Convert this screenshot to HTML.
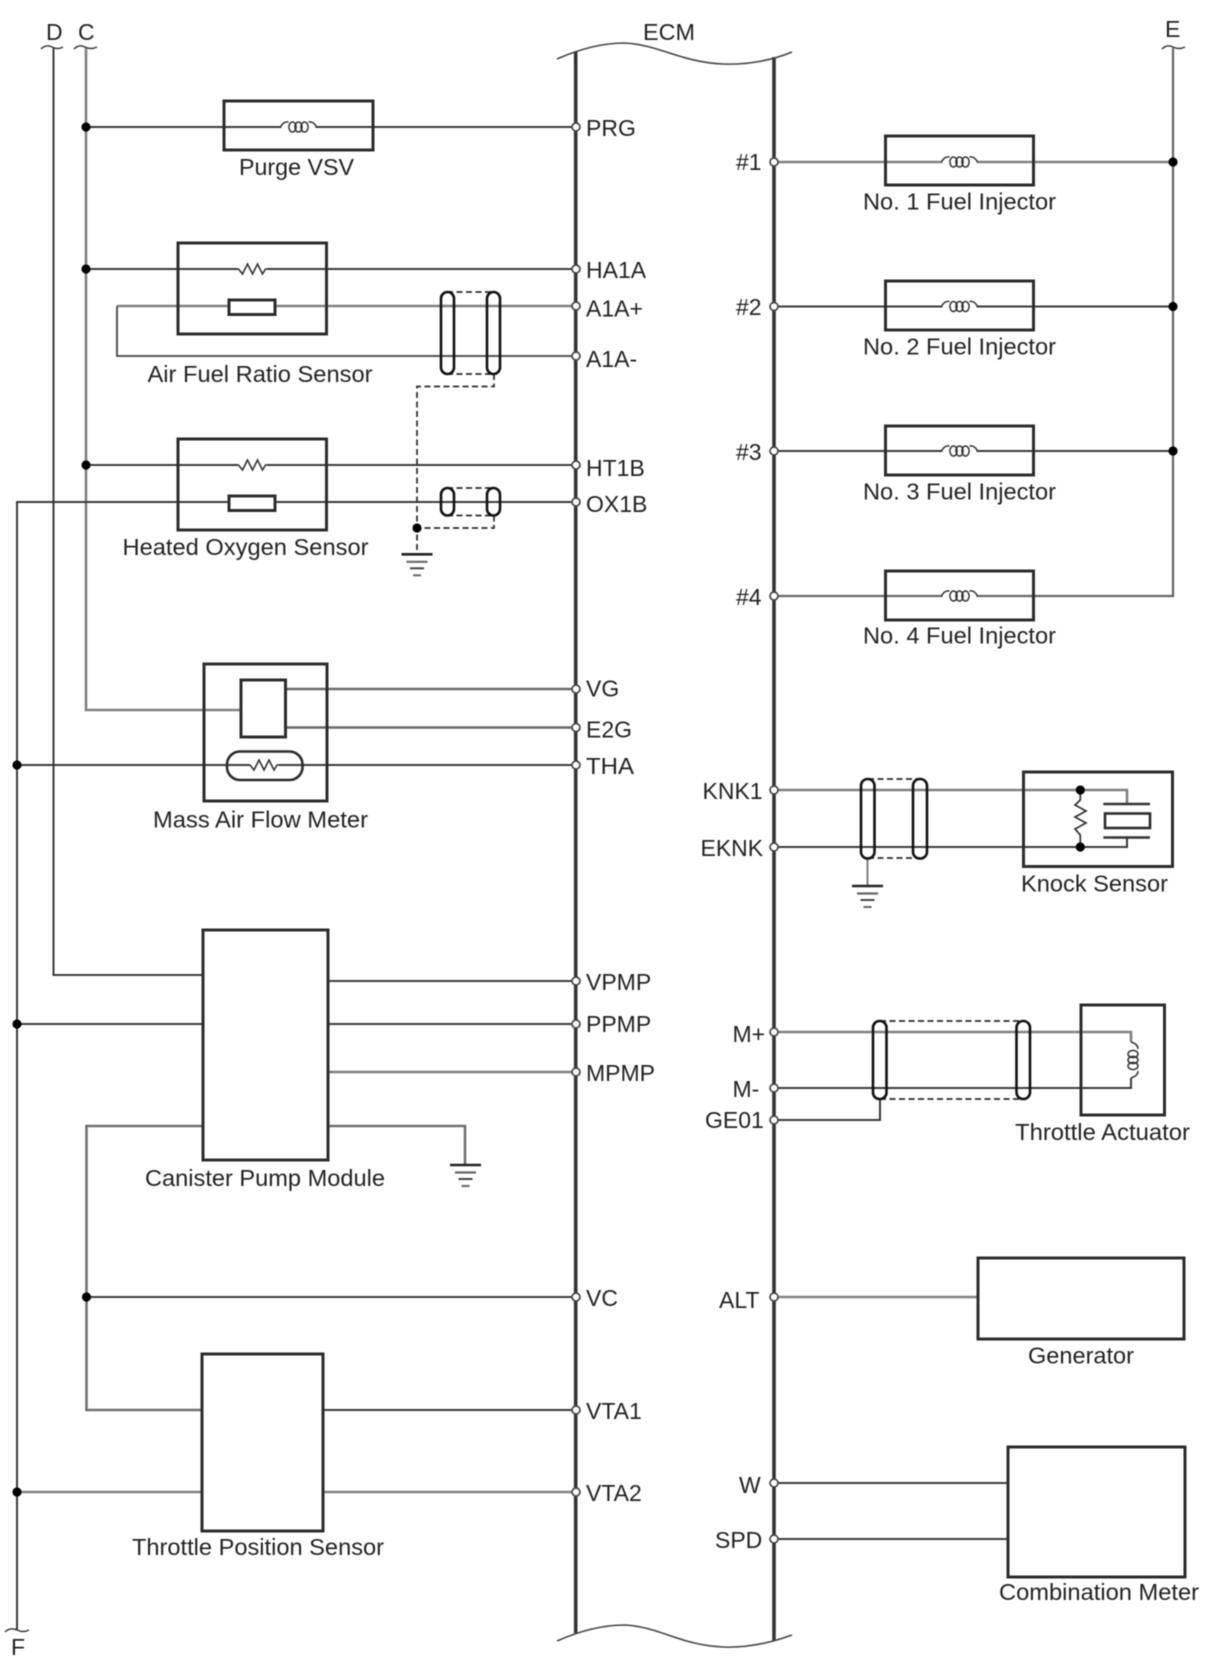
<!DOCTYPE html>
<html><head><meta charset="utf-8"><title>ECM wiring diagram</title>
<style>
html,body{margin:0;padding:0;background:#fff}
svg{display:block;filter:blur(.45px)}
text{font-family:"Liberation Sans",sans-serif;font-size:23px;fill:#222}
.w{fill:none;stroke:#3a3a3a;stroke-width:2}
.g{fill:none;stroke:#808080;stroke-width:2.6}
.b{fill:#fff;stroke:#2c2c2c;stroke-width:3}
.e{fill:none;stroke:#333;stroke-width:3.6}
.t{fill:none;stroke:#444;stroke-width:1.6}
.d{fill:none;stroke:#2a2a2a;stroke-width:1.7;stroke-dasharray:6 3.5}
.o{fill:#fff;stroke:#111;stroke-width:2.6}
.n{fill:#fff;stroke:#444;stroke-width:1.7}
.k{fill:#000}
</style></head><body>
<svg width="1210" height="1668" viewBox="0 0 1210 1668" xmlns="http://www.w3.org/2000/svg">
<defs>
<g id="coil"><rect x="-17" y="-3" width="34" height="6" fill="#fff"/><path d="M-18 0Q-15-6-10-5M10-5Q15-6 18 0" fill="none" stroke="#333" stroke-width="1.5"/><ellipse cx="-6" cy="0" rx="3.6" ry="5" fill="none" stroke="#333" stroke-width="1.5"/><ellipse cx="0" cy="0" rx="3.6" ry="5" fill="none" stroke="#333" stroke-width="1.5"/><ellipse cx="6" cy="0" rx="3.6" ry="5" fill="none" stroke="#333" stroke-width="1.5"/></g>
<g id="res"><rect x="-15" y="-3" width="30" height="6" fill="#fff"/><path d="M-17 0H-14L-10 5-5-5 0 5 5-5 10 5 13 0H17" fill="none" stroke="#333" stroke-width="1.6"/></g>
<g id="gnd"><path d="M-15.500 0H15.500" stroke="#222" stroke-width="2.6"/><path d="M-10.500 7.500H10.500" stroke="#666" stroke-width="2.2"/><path d="M-7 14H7" stroke="#444" stroke-width="2"/><path d="M-4 21H4" stroke="#666" stroke-width="2"/></g>
</defs>

<!-- ECM -->
<path class="e" d="M575.700 52V1633M774 57V1641"/>
<path class="t" d="M557 59C575 51 600 43 625 43C660 45 680 62 723 64C748 65 773 60 792 52"/>
<path class="t" d="M557 1641C575 1633 600 1625 625 1625C660 1627 680 1645 723 1647C748 1648 773 1642 792 1635"/>

<!-- Bus wires -->
<path class="w" d="M53.500 48V975H203"/>
<path class="g" d="M86 48V710H241"/>
<path class="w" d="M17 1630V502H576"/>
<path class="g" d="M1173 48V596H774" style="stroke:#666;stroke-width:2.2"/>
<path class="w" d="M41 49Q46 44 52 47Q58 50 63 47M74 49Q79 44 85 47Q91 50 97 47M1162 49Q1167 44 1173 47Q1179 50 1185 47M5 1632Q10 1627 17 1630Q23 1633 29 1630" style="stroke-width:1.5"/>

<!-- Left side wires -->
<path class="w" d="M86 127H576M86 269H576M86 465H576"/>
<path class="g" d="M576 306H117"/>
<path class="w" d="M117 306V356H576" style="stroke:#555"/>
<path class="g" d="M285 689H576M285 727.500H576" style="stroke:#6a6a6a"/>
<path class="w" d="M17 765H576M17 1024H203M328 1024H576M328 981H576"/>
<path class="g" d="M328 1072H576"/>
<path class="g" d="M203 1126H86.500V1410H202M328 1126H465V1165" style="stroke:#707070"/>
<path class="w" d="M86.500 1297H576M323 1410H576"/>
<path class="g" d="M17 1492H202M323 1492H576"/>

<!-- Right side wires -->
<path class="g" d="M774 162H1173"/>
<path class="w" d="M774 306.500H1173M774 451H1173"/>
<path class="g" d="M774 790H1127V804M774 1032H1131V1042"/>
<path class="w" d="M774 847H1127V837M774 1088H1131V1078M774 1120H880V1099"/>
<path class="g" d="M774 1297H978"/>
<path class="w" d="M774 1483H1008M774 1539H1008"/>

<!-- Boxes -->
<rect class="b" x="224" y="101" width="149" height="49" fill-opacity="0"/>
<rect class="b" x="178" y="243" width="148.500" height="91" fill-opacity="0"/>
<rect class="b" x="178" y="439" width="148.500" height="91" fill-opacity="0"/>
<rect class="b" x="204" y="664" width="123" height="137" fill-opacity="0"/>
<rect class="b" x="241" y="680" width="44.500" height="57"/>
<rect class="b" x="227" y="751.500" width="75.500" height="28.500" rx="13" style="stroke-width:2.6" fill-opacity="0"/>
<rect class="b" x="203" y="930" width="125" height="230"/>
<rect class="b" x="202" y="1354" width="121" height="177"/>
<rect class="b" x="229" y="300" width="46" height="14.500"/>
<rect class="b" x="229" y="496" width="46" height="14.500"/>
<rect class="b" x="885.500" y="136" width="148" height="49" fill-opacity="0"/>
<rect class="b" x="885.500" y="281" width="148" height="49" fill-opacity="0"/>
<rect class="b" x="885.500" y="426" width="148" height="49" fill-opacity="0"/>
<rect class="b" x="885.500" y="571" width="148" height="49" fill-opacity="0"/>
<rect class="b" x="1023.500" y="772" width="149" height="94.500" fill-opacity="0"/>
<rect class="b" x="1081" y="1005" width="83.500" height="110" fill-opacity="0"/>
<rect class="b" x="978" y="1258" width="206" height="81"/>
<rect class="b" x="1008" y="1447" width="177" height="130"/>

<!-- Symbols -->
<use href="#coil" x="298.500" y="127"/>
<use href="#res" x="252.500" y="269"/>
<use href="#res" x="252.500" y="465"/>
<use href="#res" x="264" y="765"/>
<use href="#coil" x="959.500" y="162"/>
<use href="#coil" x="959.500" y="306.500"/>
<use href="#coil" x="959.500" y="451"/>
<use href="#coil" x="959.500" y="596"/>

<!-- Shields -->
<path class="d" d="M447 292H494M447 374H494M494 374V386.500H417V553M447 488H494M447 515.500H494M494 515.500V528H417"/>
<rect class="o" x="441" y="292" width="13" height="82" rx="6.500" fill-opacity="0"/>
<rect class="o" x="487" y="292" width="13" height="82" rx="6.500" fill-opacity="0"/>
<rect class="o" x="441" y="488" width="13" height="27.500" rx="6.500" fill-opacity="0"/>
<rect class="o" x="487" y="488" width="13" height="27.500" rx="6.500" fill-opacity="0"/>
<use href="#gnd" x="417" y="554.300"/>
<use href="#gnd" x="465.500" y="1165"/>

<path class="d" d="M868 779H920M868 858H920"/>
<path class="g" d="M867.500 858V886" style="stroke-width:2"/>
<rect class="o" x="861" y="779" width="13.500" height="79.500" rx="6.700" fill-opacity="0"/>
<rect class="o" x="913" y="779" width="14" height="79.500" rx="6.700" fill-opacity="0"/>
<use href="#gnd" x="867.500" y="886"/>

<path class="d" d="M880 1021H1023M880 1099H1023"/>
<rect class="o" x="873" y="1021" width="13.500" height="78" rx="6.500" fill-opacity="0"/>
<rect class="o" x="1016.500" y="1021" width="13.500" height="78" rx="6.700" fill-opacity="0"/>

<!-- Knock sensor internals -->
<path d="M1080.300 790V800L1075 805 1086 811 1075 817 1086 823 1075 829 1080.300 835V847" fill="none" stroke="#333" stroke-width="1.7"/>
<path d="M1103.300 804H1150M1103.300 837.500H1150" stroke="#333" stroke-width="2.6"/>
<rect x="1105" y="813.500" width="45" height="14.500" fill="#fff" stroke="#2c2c2c" stroke-width="2.6"/>
<!-- Actuator coil -->
<rect x="1128" y="1043" width="6" height="34" fill="#fff"/>
<path d="M1131 1042Q1138 1044 1138 1049M1138 1071Q1138 1076 1131 1078" fill="none" stroke="#333" stroke-width="1.5"/>
<ellipse cx="1133" cy="1054" rx="5" ry="3.600" fill="none" stroke="#333" stroke-width="1.5"/>
<ellipse cx="1133" cy="1060" rx="5" ry="3.600" fill="none" stroke="#333" stroke-width="1.5"/>
<ellipse cx="1133" cy="1066" rx="5" ry="3.600" fill="none" stroke="#333" stroke-width="1.5"/>

<!-- Dots -->
<g class="k">
<circle cx="86" cy="127" r="4.600"/><circle cx="86" cy="269" r="4.600"/><circle cx="86" cy="465" r="4.600"/>
<circle cx="417" cy="528" r="4.600"/><circle cx="17" cy="765" r="4.600"/><circle cx="17" cy="1024" r="4.600"/>
<circle cx="86.500" cy="1297" r="4.600"/><circle cx="17" cy="1492" r="4.600"/>
<circle cx="1173" cy="162" r="4.600"/><circle cx="1173" cy="306.500" r="4.600"/><circle cx="1173" cy="451" r="4.600"/>
<circle cx="1080.300" cy="790" r="4.600"/><circle cx="1080.300" cy="847" r="4.600"/>
</g>

<!-- Nodes -->
<g class="n">
<circle cx="576" cy="127" r="4"/><circle cx="576" cy="269" r="4"/><circle cx="576" cy="306" r="4"/><circle cx="576" cy="356" r="4"/>
<circle cx="576" cy="465" r="4"/><circle cx="576" cy="502" r="4"/><circle cx="576" cy="689" r="4"/><circle cx="576" cy="727.500" r="4"/>
<circle cx="576" cy="765" r="4"/><circle cx="576" cy="981" r="4"/><circle cx="576" cy="1024" r="4"/><circle cx="576" cy="1072" r="4"/>
<circle cx="576" cy="1297" r="4"/><circle cx="576" cy="1410" r="4"/><circle cx="576" cy="1492" r="4"/>
<circle cx="774" cy="162" r="4"/><circle cx="774" cy="306.500" r="4"/><circle cx="774" cy="451" r="4"/><circle cx="774" cy="596" r="4"/>
<circle cx="774" cy="790" r="4"/><circle cx="774" cy="847" r="4"/><circle cx="774" cy="1032" r="4"/><circle cx="774" cy="1088" r="4"/><circle cx="774" cy="1120" r="4"/>
<circle cx="774" cy="1297" r="4"/><circle cx="774" cy="1483" r="4"/><circle cx="774" cy="1539" r="4"/>
</g>

<!-- Labels -->
<text x="46" y="40">D</text><text x="78" y="40">C</text><text x="1165" y="37">E</text><text x="11" y="1655">F</text>
<text x="643" y="40" textLength="52" lengthAdjust="spacingAndGlyphs">ECM</text>

<text x="586" y="136">PRG</text><text x="586" y="278">HA1A</text><text x="586" y="316.500">A1A+</text><text x="586" y="367">A1A-</text>
<text x="586" y="476">HT1B</text><text x="586" y="512">OX1B</text><text x="586" y="696.500">VG</text><text x="586" y="737.500">E2G</text>
<text x="586" y="774" textLength="48" lengthAdjust="spacingAndGlyphs">THA</text><text x="586" y="990">VPMP</text><text x="586" y="1032">PPMP</text><text x="586" y="1081">MPMP</text>
<text x="586" y="1306">VC</text><text x="586" y="1419">VTA1</text><text x="586" y="1501">VTA2</text>

<text x="736" y="170">#1</text><text x="736" y="315">#2</text><text x="736" y="460">#3</text><text x="736" y="605">#4</text>
<text x="702.500" y="799">KNK1</text><text x="700.500" y="856">EKNK</text><text x="732.500" y="1042">M+</text><text x="732.500" y="1097">M-</text>
<text x="705" y="1128">GE01</text><text x="719" y="1308">ALT</text><text x="739" y="1493">W</text><text x="715" y="1548">SPD</text>

<text x="239" y="175" textLength="115" lengthAdjust="spacingAndGlyphs">Purge VSV</text>
<text x="147.500" y="382" textLength="225" lengthAdjust="spacingAndGlyphs">Air Fuel Ratio Sensor</text>
<text x="122.500" y="555" textLength="246" lengthAdjust="spacingAndGlyphs">Heated Oxygen Sensor</text>
<text x="153" y="827.500" textLength="215" lengthAdjust="spacingAndGlyphs">Mass Air Flow Meter</text>
<text x="145" y="1186" textLength="240" lengthAdjust="spacingAndGlyphs">Canister Pump Module</text>
<text x="132" y="1555" textLength="252" lengthAdjust="spacingAndGlyphs">Throttle Position Sensor</text>
<text x="863" y="209.500" textLength="193" lengthAdjust="spacingAndGlyphs">No. 1 Fuel Injector</text>
<text x="863" y="354.500" textLength="193" lengthAdjust="spacingAndGlyphs">No. 2 Fuel Injector</text>
<text x="863" y="499.500" textLength="193" lengthAdjust="spacingAndGlyphs">No. 3 Fuel Injector</text>
<text x="863" y="643.500" textLength="193" lengthAdjust="spacingAndGlyphs">No. 4 Fuel Injector</text>
<text x="1021" y="891.500" textLength="147" lengthAdjust="spacingAndGlyphs">Knock Sensor</text>
<text x="1015" y="1140" textLength="175" lengthAdjust="spacingAndGlyphs">Throttle Actuator</text>
<text x="1028" y="1363.500" textLength="106" lengthAdjust="spacingAndGlyphs">Generator</text>
<text x="999" y="1600" textLength="200" lengthAdjust="spacingAndGlyphs">Combination Meter</text>
</svg>
</body></html>
